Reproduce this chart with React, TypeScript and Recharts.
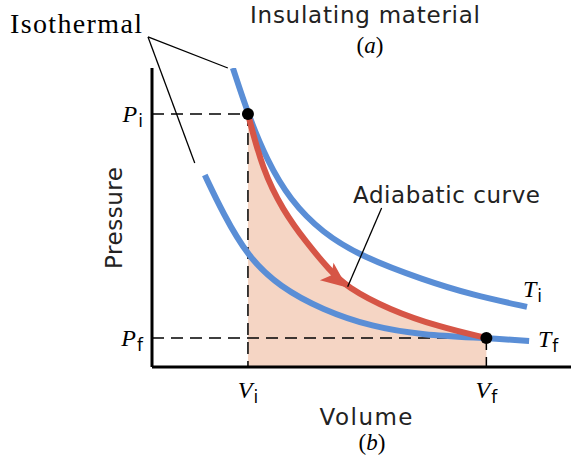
import React from "react"
import { ComposedChart, Line, Area, XAxis, YAxis, ReferenceLine, ReferenceDot } from "recharts"

// state points (V: 0-10, P: 0-10)
const Vi = 2.29
const Vf = 7.98
const Pi = 8.46
const Pf = 0.97

// isotherm at Ti (upper blue)
const tiVolume = [1.93, 2.29, 2.74, 3.29, 4.07, 5.02, 6.48, 7.64, 8.95]
const tiPressure = [10.0, 8.46, 6.92, 5.59, 4.48, 3.68, 2.91, 2.41, 2.01]

// isotherm at Tf (lower blue)
const tfVolume = [1.26, 1.69, 2.29, 3.05, 4.07, 5.26, 6.45, 7.98, 9.0]
const tfPressure = [6.42, 5.15, 3.68, 2.68, 1.91, 1.34, 1.07, 0.97, 0.87]

// adiabatic expansion (red)
const adVolume = [2.29, 2.64, 3.12, 3.69, 4.24, 4.64, 5.67, 6.86, 7.98]
const adPressure = [8.46, 6.59, 5.25, 4.15, 3.24, 2.68, 1.91, 1.34, 0.97]

const volumeTicks = [Vi, Vf]
const volumeTickSubs = ["i", "f"]
const pressureTicks = [Pf, Pi]
const pressureTickSubs = ["f", "i"]

const arrowIndex = 5

const BLUE = "#5A8ED6"
const RED = "#D65546"
const FILL = "#F5D5C4"
const SERIF = "'Liberation Serif', 'Times New Roman', serif"
const SANS = "'DejaVu Sans', sans-serif"

const toRows = (vs: number[], ps: number[]) => vs.map((v, i) => ({ v, p: ps[i] }))

const tiData = toRows(tiVolume, tiPressure)
const tfData = toRows(tfVolume, tfPressure)
const adData = toRows(adVolume, adPressure)

const piGuide = [{ v: 0, p: Pi }, { v: Vi, p: Pi }]
const viGuide = [{ v: Vi, p: Pi }, { v: Vi, p: 0 }]
const pfGuide = [{ v: 0, p: Pf }, { v: Vf, p: Pf }]
const vfGuide = [{ v: Vf, p: Pf }, { v: Vf, p: 0 }]

const VolumeTick = ({ x, y, payload }: any) => {
  const sub = volumeTickSubs[volumeTicks.indexOf(payload.value)]
  return (
    <text x={x} y={y + 31} textAnchor="middle" fill="#000" fontFamily={SERIF} fontStyle="italic" fontSize={24}>
      V
      <tspan fontFamily={SANS} fontStyle="normal" fontSize={17} dx={1} dy={5}>
        {sub}
      </tspan>
    </text>
  )
}

const PressureTick = ({ x, y, payload }: any) => {
  const sub = pressureTickSubs[pressureTicks.indexOf(payload.value)]
  return (
    <text x={x - 9} y={y + 8} textAnchor="end" fill="#000" fontFamily={SERIF} fontStyle="italic" fontSize={24}>
      P
      <tspan fontFamily={SANS} fontStyle="normal" fontSize={17} dx={1} dy={5}>
        {sub}
      </tspan>
    </text>
  )
}

const arrowHead = (props: any) => (
  <polygon
    points="1,0 -25,-11 -19,0 -25,11"
    transform={`translate(${props.cx},${props.cy}) rotate(38)`}
    fill={RED}
  />
)

const leader = { stroke: "#000", strokeWidth: 1.3 }

export default function App() {
  return (
    <div style={{ position: "absolute", left: 0, top: 0, width: 583, height: 458, background: "#fff" }}>
      <ComposedChart width={583} height={458} margin={{ top: 68, right: 12, bottom: 61, left: 92 }}>
        <XAxis
          type="number"
          dataKey="v"
          domain={[0, 10]}
          allowDataOverflow
          height={30}
          ticks={volumeTicks}
          interval={0}
          tickLine={false}
          tickSize={0}
          tickMargin={0}
          tick={<VolumeTick />}
          axisLine={{ stroke: "#000", strokeWidth: 3 }}
        />
        <YAxis
          type="number"
          dataKey="p"
          domain={[0, 10]}
          allowDataOverflow
          width={60}
          ticks={pressureTicks}
          interval={0}
          tickLine={false}
          tickSize={0}
          tickMargin={0}
          tick={<PressureTick />}
          axisLine={{ stroke: "#000", strokeWidth: 3 }}
        />
        <Area data={adData} dataKey="p" type="basis" fill={FILL} fillOpacity={1} stroke="none" isAnimationActive={false} />
        <Line data={piGuide} dataKey="p" type="linear" stroke="#000" strokeWidth={1.5} strokeDasharray="12 7" dot={false} activeDot={false} isAnimationActive={false} />
        <Line data={viGuide} dataKey="p" type="linear" stroke="#000" strokeWidth={1.5} strokeDasharray="12 7" dot={false} activeDot={false} isAnimationActive={false} />
        <Line data={pfGuide} dataKey="p" type="linear" stroke="#000" strokeWidth={1.5} strokeDasharray="12 7" dot={false} activeDot={false} isAnimationActive={false} />
        <Line data={vfGuide} dataKey="p" type="linear" stroke="#000" strokeWidth={1.5} strokeDasharray="12 7" dot={false} activeDot={false} isAnimationActive={false} />
        <Line data={tiData} dataKey="p" type="basis" stroke={BLUE} strokeWidth={6} dot={false} activeDot={false} isAnimationActive={false} />
        <Line data={tfData} dataKey="p" type="basis" stroke={BLUE} strokeWidth={6} dot={false} activeDot={false} isAnimationActive={false} />
        <Line data={adData} dataKey="p" type="basis" stroke={RED} strokeWidth={6} dot={false} activeDot={false} isAnimationActive={false} />
        <ReferenceLine segment={[{ x: -0.095, y: 11.04 }, { x: 1.81, y: 10.0 }]} ifOverflow="visible" {...leader} />
        <ReferenceLine segment={[{ x: -0.095, y: 11.04 }, { x: 1.02, y: 6.82 }]} ifOverflow="visible" {...leader} />
        <ReferenceLine segment={[{ x: 5.48, y: 5.32 }, { x: 4.67, y: 2.68 }]} ifOverflow="visible" {...leader} />
        <ReferenceDot x={adVolume[arrowIndex]} y={adPressure[arrowIndex]} ifOverflow="visible" shape={arrowHead} />
        <ReferenceDot x={Vi} y={Pi} r={6} fill="#000" stroke="none" />
        <ReferenceDot x={Vf} y={Pf} r={6} fill="#000" stroke="none" />
      </ComposedChart>
      <svg width={583} height={458} style={{ position: "absolute", left: 0, top: 0, pointerEvents: "none" }}>
        <text x={10} y={33} fontFamily={SERIF} fontSize={28} textLength={132} lengthAdjust="spacing" fill="#000">
          Isothermal
        </text>
        <text x={365} y={23} textAnchor="middle" fontFamily={SANS} fontSize={23} textLength={230} lengthAdjust="spacing" fill="#222">
          Insulating material
        </text>
        <text x={370} y={53} textAnchor="middle" fontFamily={SERIF} fontSize={23} fill="#000">
          (<tspan fontStyle="italic">a</tspan>)
        </text>
        <text x={353} y={203} fontFamily={SANS} fontSize={23} textLength={187} lengthAdjust="spacing" fill="#222">
          Adiabatic curve
        </text>
        <text transform="translate(122,218) rotate(-90)" textAnchor="middle" fontFamily={SANS} fontSize={23} textLength={102} lengthAdjust="spacing" fill="#222">
          Pressure
        </text>
        <text x={366} y={425} textAnchor="middle" fontFamily={SANS} fontSize={23} textLength={93} lengthAdjust="spacing" fill="#222">
          Volume
        </text>
        <text x={372} y={450} textAnchor="middle" fontFamily={SERIF} fontSize={23} fill="#000">
          (<tspan fontStyle="italic">b</tspan>)
        </text>
        <text x={523} y={297} fontFamily={SERIF} fontStyle="italic" fontSize={24} fill="#000">
          T
          <tspan fontFamily={SANS} fontStyle="normal" fontSize={17} dx={1} dy={5}>i</tspan>
        </text>
        <text x={538} y={347} fontFamily={SERIF} fontStyle="italic" fontSize={24} fill="#000">
          T
          <tspan fontFamily={SANS} fontStyle="normal" fontSize={17} dx={1} dy={5}>f</tspan>
        </text>
      </svg>
    </div>
  )
}
